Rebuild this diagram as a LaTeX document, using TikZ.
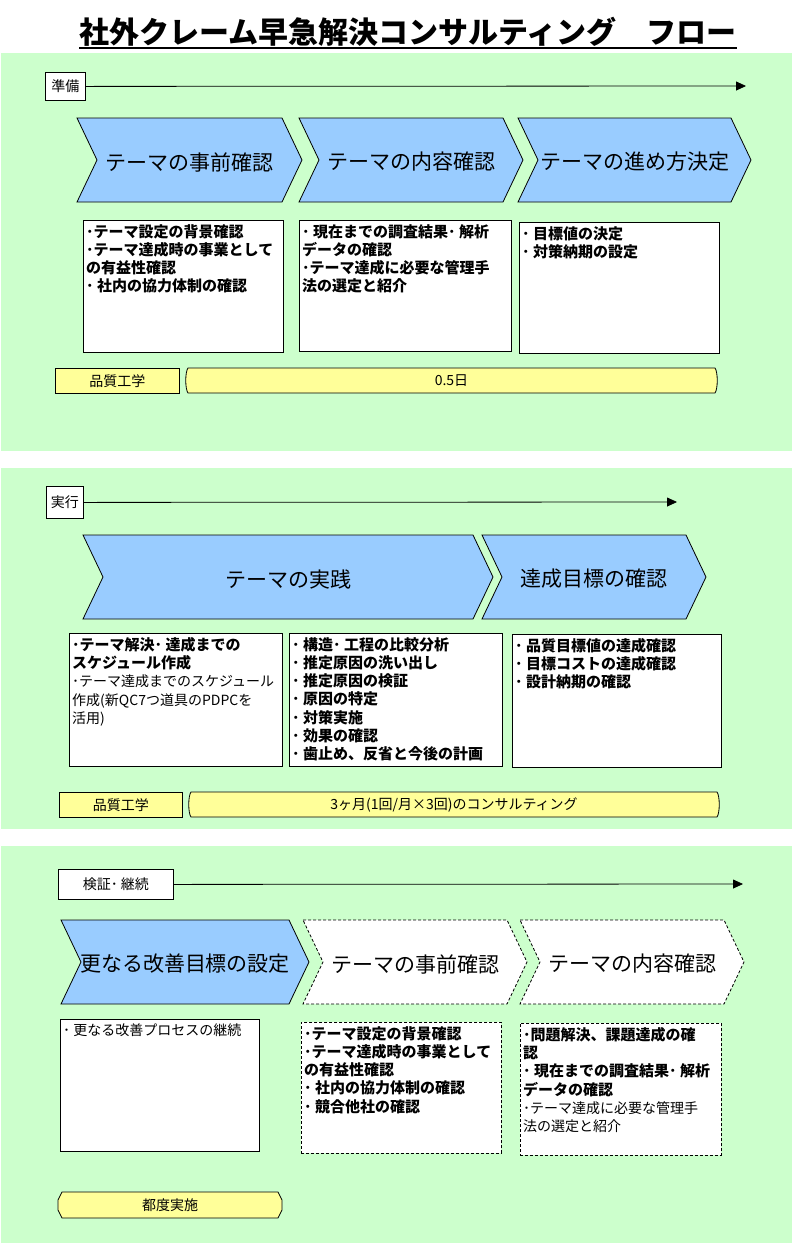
\documentclass[tikz,border=0pt]{standalone}
\usepackage{fontspec}
\setmainfont{Noto Sans CJK JP}
\usetikzlibrary{arrows.meta}
\definecolor{secgreen}{HTML}{CCFFCC}
\definecolor{chevblue}{HTML}{99CCFF}
\definecolor{baryellow}{HTML}{FFFF99}
\newcommand\regtxt{\fontsize{14}{18.3}\mdseries\selectfont}
% chevron: name, style, x0 (top-left), x1 (top-right), ytop, ybot, text
\newcommand\chevronshape[7]{%
  \draw[#2] (#3,#5) -- (#4,#5) -- ({#4+20},{(#5+#6)/2}) -- (#4,#6) -- (#3,#6) -- ({#3+20},{(#5+#6)/2}) -- cycle;
  \node[chevtext] (#1) at ({(#3+#4)/2+10},{(#5+#6)/2+2}) {#7};}
% curved-end bar: name, x0, x1, y0, y1, text
\newcommand\curvebar[6]{%
  \draw[barstyle] ({#2+3},#4) -- ({#3-3},#4) .. controls ({#3},{#4+4}) and ({#3},{#5-4}) .. ({#3-3},#5)
     -- ({#2+3},#5) .. controls ({#2},{#5-4}) and ({#2},{#4+4}) .. ({#2+3},#4) -- cycle;
  \node[bartext] (#1) at ({(#2+#3)/2},{(#4+#5)/2}) {#6};}
\begin{document}
\begin{tikzpicture}[x=1pt,y=-1pt,
  sec/.style={fill=secgreen, draw=none},
  chevfill/.style={fill=chevblue, draw=black, line width=0.8pt},
  chevdash/.style={fill=white, draw=black, line width=0.8pt, dash pattern=on 3pt off 2pt},
  chevtext/.style={font=\fontsize{21}{24}\selectfont, inner sep=0pt},
  infobox/.style={draw=black, fill=white, line width=0.8pt, inner sep=0pt, anchor=north west},
  dashbox/.style={infobox, dash pattern=on 3pt off 2pt},
  boxtext/.style={font=\fontsize{15}{18.3}\bfseries\selectfont, align=left, inner sep=0pt, anchor=north west},
  phase/.style={draw=black, fill=white, line width=0.8pt, font=\fontsize{14}{16}\selectfont, inner sep=0pt, anchor=north west},
  tag/.style={draw=black, fill=baryellow, line width=0.8pt, font=\fontsize{14}{16}\selectfont, inner sep=0pt, anchor=north west},
  barstyle/.style={draw=black, fill=baryellow, line width=0.8pt},
  bartext/.style={font=\fontsize{14}{16}\selectfont, inner sep=0pt},
  flowline/.style={line width=0.8pt, -{Triangle[length=10pt,width=9pt]}}]
\useasboundingbox (0,0) rectangle (793,1243);
\fill[white] (0,0) rectangle (793,1243);

% title
\node[font=\fontsize{30}{33}\bfseries\selectfont, anchor=base, inner sep=0pt] (title) at (408,43) {社外クレーム早急解決コンサルティング　フロー};
\draw[line width=2.5pt] ([yshift=-5pt]title.base west) -- ([yshift=-5pt]title.base east);

% section backgrounds
\fill[sec] (1,53) rectangle (792,451);
\fill[sec] (1,468) rectangle (792,829);
\fill[sec] (1,846) rectangle (792,1243);

% ===== Section 1 =====
\node[phase, minimum width=40pt, minimum height=28pt] (p1) at (45,72) {準備};
\coordinate (p1end) at (746,86);
\draw[flowline] (p1.east) -- (p1end);

\chevronshape{c11}{chevfill}{77}{282}{118}{202}{テーマの事前確認}
\chevronshape{c12}{chevfill}{299}{503}{118}{202}{テーマの内容確認}
\chevronshape{c13}{chevfill}{518}{731}{118}{202}{テーマの進め方決定}

\node[infobox, minimum width=200pt, minimum height=132pt] (b11) at (83,220) {};
\node[infobox, minimum width=212pt, minimum height=131pt] (b12) at (299,220) {};
\node[infobox, minimum width=200pt, minimum height=131pt] (b13) at (519,222) {};
\node[boxtext] (t11) at ([xshift=3pt,yshift=-4pt]b11.north west)
  {･テーマ設定の背景確認\\ ･テーマ達成時の事業として\\ の有益性確認\\ ･ 社内の協力体制の確認};
\node[boxtext] (t12) at ([xshift=3pt,yshift=-4pt]b12.north west)
  {･ 現在までの調査結果･ 解析\\ データの確認\\ ･テーマ達成に必要な管理手\\ 法の選定と紹介};
\node[boxtext] (t13) at ([xshift=3pt,yshift=-4pt]b13.north west)
  {･ 目標値の決定\\ ･ 対策納期の設定};

\node[tag, minimum width=124pt, minimum height=25pt] (q1) at (55,368) {品質工学};
\curvebar{r1}{185}{718}{368}{393}{0.5日}

% ===== Section 2 =====
\node[phase, minimum width=37pt, minimum height=32pt] (p2) at (46,486) {実行};
\coordinate (p2end) at (677,502);
\draw[flowline] (p2.east) -- (p2end);

\chevronshape{c21}{chevfill}{83}{473}{535}{619}{テーマの実践}
\chevronshape{c22}{chevfill}{482}{686}{535}{619}{達成目標の確認}

\node[infobox, minimum width=213pt, minimum height=133pt] (b21) at (69,633) {};
\node[infobox, minimum width=213pt, minimum height=133pt] (b22) at (289,633) {};
\node[infobox, minimum width=209pt, minimum height=133pt] (b23) at (512,634) {};
\node[boxtext] (t21) at ([xshift=3pt,yshift=-4pt]b21.north west)
  {･テーマ解決･ 達成までの\\ スケジュール作成\\ \regtxt ･テーマ達成までのスケジュール\\ \regtxt 作成(新QC7つ道具のPDPCを\\ \regtxt 活用)};
\node[boxtext] (t22) at ([xshift=3pt,yshift=-4pt]b22.north west)
  {･ 構造･ 工程の比較分析\\ ･ 推定原因の洗い出し\\ ･ 推定原因の検証\\ ･ 原因の特定\\ ･ 対策実施\\ ･ 効果の確認\\ ･ 歯止め、反省と今後の計画};
\node[boxtext] (t23) at ([xshift=3pt,yshift=-4pt]b23.north west)
  {･ 品質目標値の達成確認\\ ･ 目標コストの達成確認\\ ･ 設計納期の確認};

\node[tag, minimum width=123pt, minimum height=25pt] (q2) at (59,792) {品質工学};
\curvebar{r2}{188}{720}{792}{817}{3ヶ月(1回/月×3回)のコンサルティング}

% ===== Section 3 =====
\node[phase, minimum width=115pt, minimum height=30pt] (p3) at (58,869) {検証･ 継続};
\coordinate (p3end) at (743,884);
\draw[flowline] (p3.east) -- (p3end);

\chevronshape{c31}{chevfill}{61}{289}{920}{1004}{更なる改善目標の設定}
\chevronshape{c32}{chevdash}{303}{507}{920}{1004}{テーマの事前確認}
\chevronshape{c33}{chevdash}{520}{724}{920}{1004}{テーマの内容確認}

\node[infobox, minimum width=199pt, minimum height=132pt] (b31) at (60,1019) {};
\node[dashbox, minimum width=200pt, minimum height=131pt] (b32) at (301,1022) {};
\node[dashbox, minimum width=201pt, minimum height=132pt] (b33) at (520,1023) {};
\node[boxtext] (t31) at ([xshift=3pt,yshift=-4pt]b31.north west)
  {\regtxt ･ 更なる改善プロセスの継続};
\node[boxtext] (t32) at ([xshift=3pt,yshift=-4pt]b32.north west)
  {･テーマ設定の背景確認\\ ･テーマ達成時の事業として\\ の有益性確認\\ ･ 社内の協力体制の確認\\ ･ 競合他社の確認};
\node[boxtext] (t33) at ([xshift=3pt,yshift=-4pt]b33.north west)
  {･問題解決、課題達成の確\\ 認\\ ･ 現在までの調査結果･ 解析\\ データの確認\\ \regtxt ･テーマ達成に必要な管理手\\ \regtxt 法の選定と紹介};

\draw[barstyle] (62,1192) -- (278,1192) -- (282,1200) -- (282,1210) -- (278,1218) -- (62,1218) -- (58,1210) -- (58,1200) -- cycle;
\node[bartext] (r3) at (170,1205) {都度実施};
\end{tikzpicture}
\end{document}
